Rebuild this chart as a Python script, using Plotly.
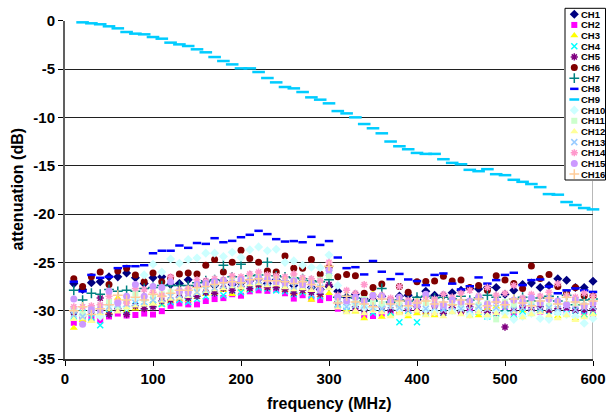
import plotly.graph_objects as go

# ---------------- data ----------------
freq = [10, 20, 30, 40, 50, 60, 70, 80, 90, 100, 110, 120, 130, 140, 150, 160, 170, 180, 190, 200,
        210, 220, 230, 240, 250, 260, 270, 280, 290, 300, 310, 320, 330, 340, 350, 360, 370, 380, 390, 400,
        410, 420, 430, 440, 450, 460, 470, 480, 490, 500, 510, 520, 530, 540, 550, 560, 570, 580, 590, 600]

ch1 = [-27.2, -27.8, -27.1, -27.0, -26.5, -26.5, -26.1, -26.6, -27.2, -26.6, -26.5, -27.3, -27.2, -26.8, -27.5,
       -27.0, -27.4, -26.9, -27.3, -27.1, -26.9, -26.7, -27.2, -26.8, -27.0, -27.4, -27.0, -27.6, -27.8, -27.5,
       -28.0, -28.6, -28.3, -28.8, -28.9, -28.5, -29.2, -28.5, -28.4, -28.85, -28.0, -28.4, -28.4, -28.15, -27.9,
       -27.7, -27.75, -27.6, -27.6, -28.3, -27.9, -27.3, -27.15, -27.6, -27.4, -26.7, -26.85, -27.6, -27.6, -26.95]
ch2 = [-31.25, -30.9, -30.8, -31.0, -30.6, -30.3, -30.5, -30.45, -30.3, -30.4, -30.05, -29.5, -29.25, -29.35, -29.35,
       -29.0, -28.8, -28.7, -28.3, -28.45, -28.0, -27.9, -27.95, -27.8, -28.2, -28.75, -28.4, -28.75, -28.9, -28.7,
       -29.8, -30.0, -29.9, -30.5, -30.55, -30.3, -30.2, -30.1, -30.0, -29.9, -30.1, -30.3, -30.0, -29.9, -30.2,
       -29.8, -30.0, -29.9, -30.1, -30.0, -30.2, -29.8, -29.9, -30.1, -29.8, -30.0, -30.2, -29.9, -30.1, -30.45]
ch3 = [-31.8, -31.0, -31.1, -30.6, -30.2, -28.7, -30.0, -29.8, -29.8, -29.2, -29.4, -29.0, -28.8, -28.9, -28.6,
       -28.3, -28.2, -27.9, -28.3, -27.8, -27.9, -27.4, -27.7, -27.5, -27.9, -28.2, -28.1, -28.9, -28.4, -28.2,
       -29.5, -29.9, -30.1, -30.8, -28.2, -30.65, -30.4, -30.1, -30.6, -30.3, -30.2, -30.5, -30.1, -29.3, -30.0,
       -30.2, -30.5, -29.8, -29.6, -29.5, -30.6, -30.0, -30.3, -30.0, -29.9, -30.6, -30.3, -30.8, -30.5, -30.3]
ch4 = [-30.6, -30.2, -30.7, -31.5, -30.3, -29.9, -30.0, -29.0, -29.6, -29.4, -29.3, -29.1, -28.9, -29.1, -28.8,
       -28.5, -28.2, -28.4, -27.9, -28.1, -27.8, -27.6, -27.7, -27.9, -28.0, -28.3, -28.1, -28.4, -28.5, -26.1,
       -29.3, -30.0, -29.5, -29.8, -30.2, -29.7, -30.2, -31.2, -30.0, -31.2, -30.3, -29.8, -30.2, -30.0, -29.6,
       -30.4, -30.1, -30.6, -30.3, -29.8, -30.4, -30.1, -30.2, -29.7, -30.5, -30.1, -30.3, -30.0, -30.4, -30.1]
ch5 = [-30.2, -30.6, -30.1, -28.7, -30.4, -29.8, -30.4, -29.5, -29.8, -29.6, -29.0, -28.9, -28.6, -28.7, -28.5,
       -28.1, -28.2, -27.7, -27.9, -27.5, -27.7, -27.3, -27.6, -27.6, -27.8, -28.2, -27.9, -28.1, -28.3, -27.3,
       -29.1, -29.4, -29.6, -29.9, -29.5, -29.6, -29.9, -29.5, -29.8, -29.6, -30.0, -29.5, -30.3, -29.7, -30.1,
       -29.6, -29.9, -30.2, -30.2, -31.7, -30.0, -29.5, -29.9, -29.6, -30.0, -29.8, -29.7, -30.0, -29.9, -29.8]
ch6 = [-26.7, -27.5, -26.5, -26.0, -27.3, -25.9, -25.6, -26.3, -27.0, -26.1, -27.0, -26.6, -26.2, -26.1, -26.2,
       -25.3, -24.7, -26.0, -25.0, -23.75, -24.6, -25.0, -25.9, -26.0, -24.35, -25.6, -25.6, -24.7, -26.2, -25.5,
       -26.5, -26.25, -26.4, -28.2, -27.6, -27.25, -28.9, -27.5, -28.1, -27.0, -26.97, -26.94, -26.45, -26.94, -26.83,
       -27.6, -27.4, -27.9, -26.4, -26.83, -27.2, -27.7, -25.38, -26.67, -26.25, -27.5, -28.2, -27.6, -28.45, -28.47]
ch7 = [-27.9, -28.9, -28.2, -28.3, -27.8, -28.0, -27.9, -28.0, -27.7, -27.6, -27.4, -27.4, -27.4, -27.4, -27.1,
       -26.9, -26.8, -25.3, -26.5, -25.2, -26.4, -26.3, -25.0, -26.4, -26.5, -26.6, -26.7, -26.9, -27.0, -26.8,
       -28.6, -28.5, -28.7, -29.0, -29.0, -27.7, -29.1, -28.9, -29.0, -28.6, -28.5, -28.7, -28.6, -28.8, -28.5,
       -28.9, -28.7, -28.4, -28.6, -30.0, -28.8, -28.6, -29.0, -28.7, -28.5, -29.0, -28.4, -29.4, -28.9, -28.8]
ch8 = [-27.0, -28.0, -26.3, -26.6, -26.5, -25.6, -25.4, -25.4, -25.3, -24.06, -23.8, -23.8, -23.26, -23.5, -23.0,
       -23.09, -22.5, -22.92, -22.78, -22.4, -22.15, -21.74, -22.08, -22.6, -22.85, -22.8, -22.92, -22.36, -23.2, -22.8,
       -24.5, -25.6, -25.5, -26.25, -24.86, -25.97, -26.74, -26.2, -26.77, -26.94, -27.36, -26.3, -26.15, -27.2, -27.8,
       -27.47, -26.56, -27.2, -26.84, -26.3, -26.08, -27.36, -26.84, -26.77, -27.5, -28.2, -27.9, -27.7, -27.9, -28.06]
ch9 = [None, -0.17, -0.27, -0.37, -0.58, -0.79, -1.17, -1.34, -1.41, -1.69, -1.86, -2.27, -2.45, -2.62, -2.96,
       -3.27, -3.76, -4.17, -4.52, -4.93, -4.93, -5.31, -5.93, -6.38, -6.86, -7.0, -7.38, -7.93, -8.17, -8.55,
       -9.35, -9.59, -10.0, -10.69, -11.13, -11.65, -12.5, -12.99, -13.3, -13.68, -13.78, -13.78, -14.33, -14.71, -14.85,
       -15.43, -15.57, -15.36, -15.88, -15.98, -16.46, -16.67, -16.9, -17.22, -17.94, -18.0, -18.76, -19.07, -19.38, -19.52]
ch10 = [-29.8, -30.5, -30.0, -30.6, -29.5, -29.2, -29.6, -28.8, -26.3, -25.2, -26.0, -24.65, -25.1, -24.7, -24.55,
        -24.05, -24.05, -24.4, -23.95, -24.5, -23.7, -23.4, -23.8, -23.65, -25.0, -24.85, -25.3, -25.5, -25.55, -24.25,
        -27.4, -29.5, -29.3, -29.7, -29.8, -29.5, -29.4, -29.9, -29.6, -29.4, -29.9, -30.1, -29.5, -30.0, -29.7,
        -30.4, -29.9, -30.6, -30.0, -30.3, -30.9, -30.6, -30.3, -30.8, -30.9, -30.2, -30.4, -30.6, -31.3, -30.8]
ch11 = [-29.9, -30.3, -29.7, -29.5, -29.1, -29.6, -29.0, -28.2, -28.8, -28.6, -28.3, -28.1, -28.0, -27.8, -27.7,
        -27.4, -27.2, -26.9, -26.8, -26.9, -26.6, -26.4, -26.5, -26.7, -26.8, -26.6, -26.9, -26.9, -26.8, -26.4,
        -28.9, -29.0, -29.2, -28.8, -29.1, -29.3, -29.0, -29.4, -29.2, -29.0, -29.2, -28.9, -29.4, -29.1, -29.3,
        -29.0, -29.4, -29.2, -30.9, -29.1, -29.4, -29.0, -29.3, -29.2, -29.5, -29.1, -29.3, -29.2, -29.4, -29.0]
ch12 = [-30.9, -30.8, -31.1, -30.3, -29.8, -30.1, -29.7, -29.5, -29.4, -29.3, -29.0, -28.8, -28.7, -28.5, -28.2,
        -28.0, -27.8, -27.7, -27.5, -27.6, -27.3, -27.2, -27.4, -27.3, -27.6, -27.8, -27.7, -27.9, -28.0, -27.7,
        -29.7, -30.2, -30.0, -30.3, -30.0, -30.2, -30.6, -30.3, -30.4, -30.0, -30.5, -30.3, -30.6, -30.2, -30.4,
        -30.6, -30.2, -30.5, -30.3, -30.6, -30.1, -30.7, -30.4, -30.2, -30.5, -30.8, -30.5, -31.0, -30.7, -30.4]
ch13 = [-30.4, -30.6, -29.9, -30.0, -29.6, -29.4, -29.3, -29.2, -29.1, -28.9, -28.8, -28.5, -28.4, -28.3, -28.1,
        -27.8, -27.6, -27.4, -27.3, -27.2, -27.0, -26.9, -27.1, -27.0, -27.2, -27.5, -27.3, -27.4, -27.6, -25.9,
        -29.4, -29.6, -29.4, -29.5, -29.7, -29.8, -29.6, -29.7, -29.9, -29.5, -29.8, -29.7, -29.9, -29.6, -29.8,
        -29.9, -29.6, -29.8, -29.7, -29.5, -29.9, -29.7, -29.6, -29.9, -29.7, -29.8, -29.5, -29.9, -29.7, -29.6]
ch14 = [-29.6, -29.6, -29.5, -29.4, -28.5, -29.0, -29.2, -27.7, -27.8, -28.1, -28.4, -26.5, -27.9, -27.7, -26.8,
        -26.9, -26.7, -26.8, -26.4, -26.5, -26.2, -26.0, -26.3, -26.4, -26.5, -26.2, -26.6, -26.7, -26.9, -25.0,
        -28.4, -27.9, -28.2, -27.3, -28.6, -28.4, -28.7, -27.5, -28.9, -29.1, -28.6, -28.8, -28.3, -28.6, -28.2,
        -27.9, -28.5, -27.6, -28.4, -28.2, -27.4, -28.7, -28.3, -28.5, -28.1, -27.2, -28.4, -28.6, -28.2, -28.5]
ch15 = [-28.8, -31.4, -29.9, -29.9, -28.0, -29.2, -28.5, -27.3, -28.5, -27.5, -27.6, -27.0, -28.0, -28.1, -27.3,
        -27.2, -27.0, -26.9, -27.1, -26.8, -26.9, -26.6, -26.8, -27.0, -27.1, -26.9, -27.3, -27.2, -27.9, -25.8,
        -28.6, -29.0, -28.6, -29.0, -28.4, -28.5, -29.1, -28.6, -29.2, -29.4, -28.3, -29.4, -29.4, -28.9, -29.1,
        -29.0, -28.6, -29.3, -29.0, -29.3, -28.9, -29.1, -28.7, -29.2, -28.8, -29.0, -29.4, -28.9, -29.5, -29.2]
ch16 = [-30.0, -29.6, -30.4, -29.8, -29.4, -28.4, -28.9, -28.6, -28.9, -28.3, -28.5, -28.2, -27.9, -27.9, -27.6,
        -27.5, -27.3, -27.1, -27.0, -27.1, -26.8, -26.7, -26.9, -26.9, -27.0, -27.2, -27.0, -27.3, -27.5, -25.4,
        -29.2, -28.5, -29.1, -29.3, -29.6, -28.8, -29.3, -29.0, -29.5, -29.2, -29.0, -29.3, -29.1, -29.4, -28.9,
        -29.3, -28.8, -29.5, -29.1, -29.4, -28.8, -29.2, -29.5, -29.0, -28.7, -29.3, -28.6, -29.1, -29.3, -29.0]

names = ["CH1", "CH2", "CH3", "CH4", "CH5", "CH6", "CH7", "CH8",
         "CH9", "CH10", "CH11", "CH12", "CH13", "CH14", "CH15", "CH16"]
series = [ch1, ch2, ch3, ch4, ch5, ch6, ch7, ch8, ch9, ch10, ch11, ch12, ch13, ch14, ch15, ch16]

x_ticks = [0, 100, 200, 300, 400, 500, 600]
y_ticks = [0, -5, -10, -15, -20, -25, -30, -35]
y_tick_text = ["0", "-5", "-10", "-15", "-20", "-25", "-30", "-35"]

# ---------------- styles ----------------
colors = ["#000080", "#FF00FF", "#FFFF00", "#00FFFF", "#800080", "#800000", "#008080", "#0000FF",
          "#00CCFF", "#CCFFFF", "#CCFFCC", "#FFFF99", "#99CCFF", "#FF99CC", "#CC99FF", "#FFCC99"]
symbols = ["diamond", "square", "triangle-up", "x-thin-open", "asterisk-open", "circle", "cross-thin-open",
           "line-ew-open", "line-ew-open", "diamond", "square", "triangle-up", "x-thin-open", "asterisk-open",
           "circle", "cross-thin-open"]
sizes = [7, 6, 7, 6, 6, 7, 7, 6, 9, 7, 6, 7, 6, 6, 7, 7]
lwidths = [0, 0, 0, 1.5, 1.5, 0, 1.5, 2.5, 2.5, 0, 0, 0, 1.5, 1.5, 0, 1.5]

W, H = 607, 417
ML, MR, MT, MB = 65, 1, 6, 58
PW = W - ML - MR
PH = H - MT - MB


def px_x(px):
    return (px - ML) / PW


def px_y(py):
    return (H - MB - py) / PH


FONT = "Liberation Sans, Arial, sans-serif"

fig = go.Figure()
for name, vals, col, sym, sz, lw in zip(names, series, colors, symbols, sizes, lwidths):
    fig.add_trace(go.Scatter(
        x=freq, y=vals, mode="markers", name=name, showlegend=False,
        marker=dict(symbol=sym, size=sz, color=col, line=dict(color=col, width=lw)),
        xaxis="x", yaxis="y", cliponaxis=False,
    ))

# ------------- legend (drawn on its own small axes) -------------
LX0, LX1, LY0, LY1 = 564, 606, 7, 181
fig.add_trace(go.Scatter(
    x=[1, 41.5, 41.5, 1, 1], y=[1.3, 1.3, 173, 173, 1.3], mode="lines", fill="toself",
    fillcolor="white", line=dict(color="black", width=1), hoverinfo="skip",
    showlegend=False, xaxis="x2", yaxis="y2",
))
row0, rowgap, mx, tx = 7.3, 10.65, 10.3, 15.0
for i, (name, col, sym, sz, lw) in enumerate(zip(names, colors, symbols, sizes, lwidths)):
    fig.add_trace(go.Scatter(
        x=[mx], y=[row0 + i * rowgap], mode="markers", showlegend=False,
        marker=dict(symbol=sym, size=min(sz, 7), color=col, line=dict(color=col, width=lw)),
        xaxis="x2", yaxis="y2", hoverinfo="skip",
    ))
    fig.add_annotation(x=tx, y=row0 + i * rowgap, xref="x2", yref="y2", text=name,
                       showarrow=False, xanchor="left", yanchor="middle",
                       font=dict(family=FONT, size=9.5, color="black", weight="bold"))

axis_font = dict(family=FONT, size=15, color="black", weight="bold")
fig.update_layout(
    width=W, height=H, autosize=False,
    margin=dict(l=ML, r=MR, t=MT, b=MB, autoexpand=False),
    paper_bgcolor="white", plot_bgcolor="white",
    xaxis=dict(domain=[0, px_x(593)], range=[0, 600], tickvals=x_ticks, ticks="outside", ticklen=5,
               tickcolor="black", showgrid=False, zeroline=False, showline=True, linecolor="#303030",
               linewidth=1.5, tickfont=axis_font, anchor="y", automargin=False),
    yaxis=dict(domain=[0, px_y(20.7)], range=[-35, 0], tickvals=y_ticks, ticktext=y_tick_text,
               ticks="outside", ticklen=5, tickcolor="black", showgrid=True, gridcolor="#202020",
               gridwidth=1, zeroline=False, showline=True, linecolor="#606060", linewidth=2,
               tickfont=axis_font, anchor="x", automargin=False),
    xaxis2=dict(domain=[px_x(LX0), px_x(LX1)], range=[0, LX1 - LX0], visible=False, anchor="y2",
                automargin=False),
    yaxis2=dict(domain=[px_y(LY1), px_y(LY0)], range=[LY1 - LY0, 0], visible=False, anchor="x2",
                automargin=False),
    showlegend=False,
)
# right border of the plot area
fig.add_shape(type="line", xref="x", yref="y", x0=600, x1=600, y0=-35, y1=0,
              line=dict(color="#a0a0a0", width=1.5), layer="below")

fig.add_annotation(x=px_x(18), y=px_y(189.6), xref="paper", yref="paper", text="attenuation (dB)",
                   textangle=-90, showarrow=False, xanchor="center", yanchor="middle",
                   font=dict(family=FONT, size=16, color="black", weight="bold"))
fig.add_annotation(x=px_x(329), y=px_y(404), xref="paper", yref="paper", text="frequency (MHz)",
                   showarrow=False, xanchor="center", yanchor="middle",
                   font=dict(family=FONT, size=16, color="black", weight="bold"))

page_fix = (
    "var st=document.createElement('style');"
    "st.innerHTML='html,body{margin:0!important;padding:0!important;overflow:hidden!important;"
    "width:607px;height:417px;}';"
    "document.head.appendChild(st);"
)
fig.write_html("out.html", config={"displayModeBar": False, "responsive": False},
               post_script=page_fix)
